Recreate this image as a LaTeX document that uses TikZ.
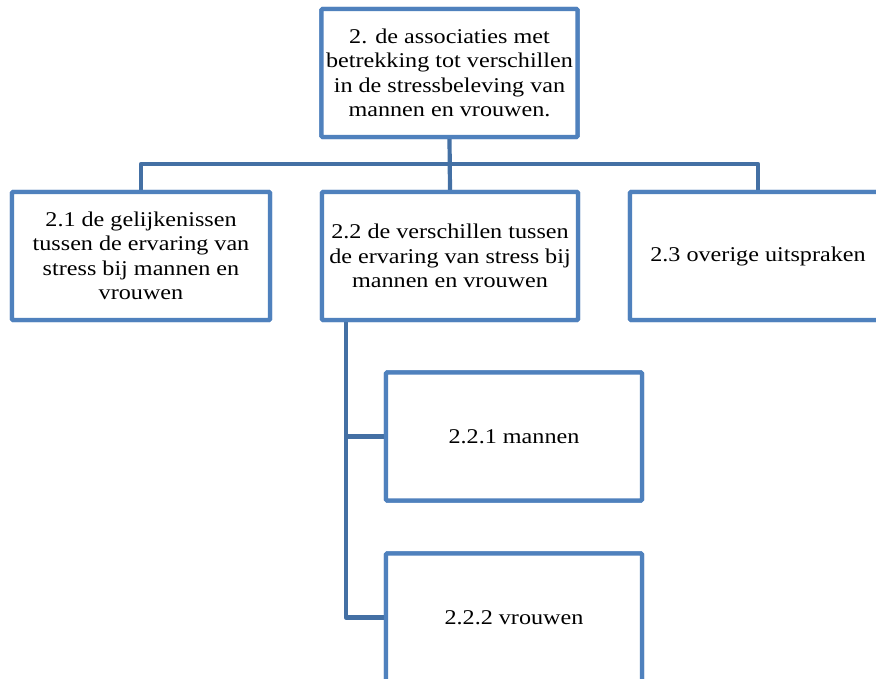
\documentclass[tikz,border=0pt]{standalone}
\usepackage{fontspec}
\setmainfont{Liberation Serif}[FakeStretch=1.15]
\definecolor{boxblue}{HTML}{4F81BD}
\definecolor{linkblue}{HTML}{4470A4}
\begin{document}
\begin{tikzpicture}[x=1pt,y=-1pt,
  box/.style={draw=boxblue, line width=4.2pt, fill=white, rounded corners=1pt,
    minimum width=256pt, minimum height=128pt, inner sep=0pt,
    align=center, font=\fontsize{21}{24.5}\selectfont},
  link/.style={draw=linkblue, line width=4.2pt, line join=round, line cap=round}]
\useasboundingbox (0,0) rectangle (876,679);
\clip (0,0) rectangle (876,679);
\node[box] (top) at (449.5,73) {2. de associaties met\\betrekking tot verschillen\\in de stressbeleving van\\mannen en vrouwen.};
\node[box, minimum width=258pt] (b21) at (141,256) {2.1 de gelijkenissen\\tussen de ervaring van\\stress bij mannen en\\vrouwen};
\node[box] (b22) at (450,256) {2.2 de verschillen tussen\\de ervaring van stress bij\\mannen en vrouwen};
\node[box] (b23) at (758,256) {2.3 overige uitspraken};
\node[box] (b221) at (514,436.5) {2.2.1 mannen};
\node[box] (b222) at (514,617.5) {2.2.2 vrouwen};
\coordinate (bus) at (450,164);
\coordinate (trunk) at ([xshift=26pt]b22.south west);
\draw[link] (b21.north) |- (bus) -| (b23.north);
\draw[link] (top.south) -- (b22.north);
\draw[link] (trunk) |- (b221.west);
\draw[link] (trunk) |- (b222.west);
% redraw boxes on top of connectors
\node[box] at (top) {2. de associaties met\\betrekking tot verschillen\\in de stressbeleving van\\mannen en vrouwen.};
\node[box, minimum width=258pt] at (b21) {2.1 de gelijkenissen\\tussen de ervaring van\\stress bij mannen en\\vrouwen};
\node[box] at (b22) {2.2 de verschillen tussen\\de ervaring van stress bij\\mannen en vrouwen};
\node[box] at (b23) {2.3 overige uitspraken};
\node[box] at (b221) {2.2.1 mannen};
\node[box] at (b222) {2.2.2 vrouwen};
\end{tikzpicture}
\end{document}
